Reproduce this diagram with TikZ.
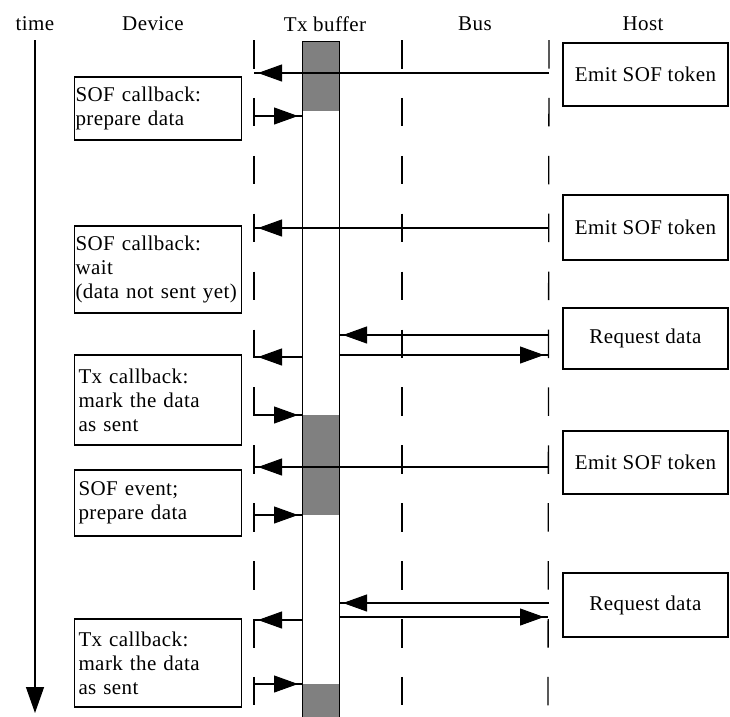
\documentclass[tikz,border=0pt]{standalone}
\usepackage{fontspec}
\setmainfont{Liberation Serif}[LetterSpace=2]
\usetikzlibrary{arrows.meta,decorations.markings}
\begin{document}
\begin{tikzpicture}[x=1pt,y=-1pt,
  font=\fontsize{21}{24}\selectfont,
  lifeline/.style={line width=1.3pt, dash pattern=on 28.5pt off 29.4pt},
  box/.style={draw, line width=1.4pt, inner sep=3pt},
  devbox/.style={box, text width=165pt, inner xsep=1pt, align=left},
  devboxi/.style={box, text width=159pt, inner xsep=4pt, align=left},
  hostbox/.style={box, minimum width=165pt, align=center},
  graybuf/.style={fill=black!50, draw=none, minimum width=37pt, inner sep=0pt, anchor=north west},
  msg/.style={line width=1.3pt, postaction={decorate},
    decoration={markings, mark=at position -4pt with {\arrow[line width=1pt]{Triangle[length=24pt,width=17pt]}}}},
  hdr/.style={inner sep=0pt}
]
\useasboundingbox (0,0) rectangle (730,716);
% headers
\node[hdr] (htime) at (35,24) {time};
\node[hdr] (hdev) at (153,24) {Device};
\node[hdr] (hbuf) at (325,24) {Tx buffer};
\node[hdr] (hbus) at (475,24) {Bus};
\node[hdr] (hhost) at (643,24) {Host};
% time axis
\coordinate (t0) at (35,40);
\coordinate (t1) at (35,713);
\draw[line width=1.3pt, -{Triangle[length=26pt,width=18pt]}] (t0) -- (t1);
% lifelines
\coordinate (d0) at (254,40); \coordinate (d1) at (254,716);
\coordinate (l0) at (402,40); \coordinate (l1) at (402,716);
\coordinate (h0) at (549,40); \coordinate (h1) at (548,716);
\draw[lifeline] (d0) -- (d1);
\draw[lifeline] (l0) -- (l1);
\draw[lifeline] (h0) -- (h1);
% Tx buffer
\node[graybuf, minimum height=70pt] (g1) at (302,41) {};
\node[graybuf, minimum height=100pt] (g2) at (302,415) {};
\node[graybuf, minimum height=40pt] (g3) at (302,684) {};
\node[draw, line width=1.3pt, minimum width=37pt, minimum height=680pt, inner sep=0pt, anchor=north west] (buf) at (302,41) {};
% device boxes
\node[devbox, minimum height=63pt] (b1) at (158,108.5) {SOF callback:\\prepare data};
\node[devbox, minimum height=87pt] (b2) at (158,269.5) {SOF callback:\\wait\\(data not sent yet)};
\node[devboxi, minimum height=90pt] (b3) at (158,400) {Tx callback:\\mark the data\\as sent};
\node[devboxi, minimum height=66pt] (b4) at (158,503) {SOF event;\\prepare data};
\node[devboxi, minimum height=88pt] (b5) at (158,663) {Tx callback:\\mark the data\\as sent};
% host boxes
\node[hostbox, minimum height=63pt] (e1) at (645.5,74.5) {Emit SOF token};
\node[hostbox, minimum height=65pt] (e2) at (645.5,227.5) {Emit SOF token};
\node[hostbox, minimum height=61pt] (r1) at (645.5,338.5) {Request data};
\node[hostbox, minimum height=63pt] (e3) at (645.5,462.5) {Emit SOF token};
\node[hostbox, minimum height=64pt] (r2) at (645.5,605) {Request data};
% message end points
\coordinate (m1a) at (549,73);  \coordinate (m1b) at (254,73);
\coordinate (m2a) at (254,116); \coordinate (m2b) at (302,116);
\coordinate (m3a) at (549,228); \coordinate (m3b) at (254,228);
\coordinate (m4a) at (549,335); \coordinate (m4b) at (339,335);
\coordinate (m5a) at (339,355); \coordinate (m5b) at (548,355);
\coordinate (m6a) at (302,357); \coordinate (m6b) at (254,357);
\coordinate (m7a) at (254,415); \coordinate (m7b) at (302,415);
\coordinate (m8a) at (549,467); \coordinate (m8b) at (254,467);
\coordinate (m9a) at (254,515); \coordinate (m9b) at (302,515);
\coordinate (m10a) at (549,603); \coordinate (m10b) at (339,603);
\coordinate (m11a) at (339,617); \coordinate (m11b) at (548,617);
\coordinate (m12a) at (302,620); \coordinate (m12b) at (254,620);
\coordinate (m13a) at (254,684); \coordinate (m13b) at (302,684);
\foreach \i in {1,...,13} {\draw[msg] (m\i a) -- (m\i b);}
\end{tikzpicture}
\end{document}
